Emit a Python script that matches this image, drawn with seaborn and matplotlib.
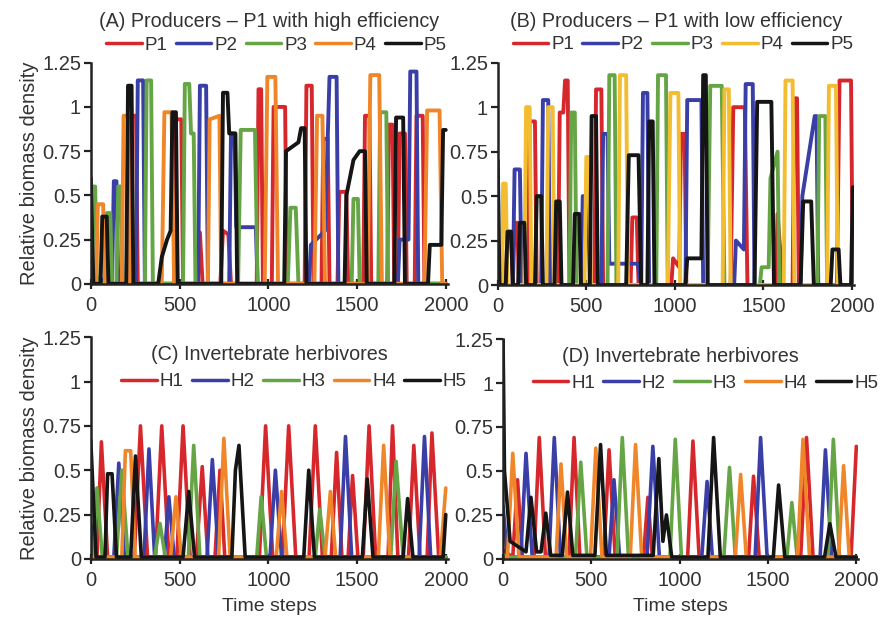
import pandas as pd
import seaborn as sns
import matplotlib.pyplot as plt
from matplotlib.ticker import FuncFormatter

# ---- data: (time step, relative biomass density) ----
# (A) producers, P1 high efficiency
a_p1 = [(0, 0.0), (215, 0.0), (230, 0.95), (255, 0.95), (265, 0.0), (470, 0.0), (480, 0.93), (510, 0.93), (520, 0.0),
        (600, 0.0), (615, 0.29), (630, 0.0), (730, 0.0), (745, 0.3), (775, 0.28), (790, 0.0), (935, 0.0), (945, 1.1),
        (960, 1.1), (970, 0.0), (1020, 0.0), (1030, 1.0), (1095, 1.0), (1105, 0.0), (1205, 0.0), (1215, 1.12),
        (1245, 1.12), (1255, 0.0), (1300, 0.0), (1310, 0.82), (1335, 0.82), (1345, 0.0), (1390, 0.0), (1400, 0.52),
        (1440, 0.52), (1450, 0.0), (1535, 0.0), (1545, 0.95), (1570, 0.95), (1580, 0.0), (1670, 0.0), (1680, 0.9),
        (1700, 0.9), (1710, 0.0), (1730, 0.0), (1740, 0.85), (1770, 0.85), (1780, 0.0), (1825, 0.0), (1835, 0.95),
        (1870, 0.95), (1880, 0.0), (2000, 0.0)]
a_p2 = [(0, 0.05), (120, 0.0), (130, 0.58), (145, 0.58), (155, 0.0), (255, 0.0), (265, 1.15), (295, 1.15), (305, 0.0),
        (605, 0.0), (615, 1.12), (650, 1.12), (660, 0.0), (780, 0.0), (790, 0.85), (810, 0.85), (820, 0.32),
        (930, 0.32), (940, 0.0), (1230, 0.0), (1240, 0.22), (1320, 0.3), (1345, 1.17), (1385, 1.17), (1395, 0.0),
        (1730, 0.0), (1740, 0.25), (1790, 0.25), (1800, 1.2), (1835, 1.2), (1845, 0.0), (2000, 0.0)]
a_p3 = [(0, 0.0), (10, 0.55), (25, 0.55), (35, 0.0), (80, 0.0), (90, 0.4), (110, 0.4), (120, 0.0), (145, 0.0),
        (155, 0.55), (170, 0.55), (180, 0.0), (305, 0.0), (315, 1.15), (340, 1.15), (350, 0.0), (520, 0.0),
        (530, 1.13), (555, 1.13), (565, 0.85), (580, 0.85), (590, 0.0), (830, 0.0), (845, 0.87), (925, 0.87),
        (940, 0.0), (1110, 0.0), (1125, 0.43), (1155, 0.43), (1170, 0.0), (1470, 0.0), (1480, 0.48), (1505, 0.48),
        (1515, 0.0), (1620, 0.0), (1630, 0.97), (1665, 0.97), (1675, 0.0), (2000, 0.0)]
a_p4 = [(0, 0.0), (30, 0.0), (40, 0.45), (70, 0.45), (80, 0.0), (175, 0.0), (185, 0.95), (210, 0.95), (220, 0.0),
        (400, 0.0), (415, 0.97), (455, 0.97), (470, 0.0), (660, 0.0), (670, 0.93), (725, 0.95), (735, 0.0),
        (980, 0.0), (995, 1.17), (1040, 1.17), (1055, 0.0), (1260, 0.0), (1275, 0.95), (1305, 0.95), (1320, 0.0),
        (1560, 0.0), (1575, 1.18), (1625, 1.18), (1640, 0.0), (1880, 0.0), (1895, 0.98), (1965, 0.98), (1980, 0.0),
        (2000, 0.0)]
a_p5 = [(0, 0.6), (15, 0.0), (55, 0.0), (65, 0.38), (90, 0.38), (100, 0.0), (200, 0.0), (210, 1.12), (230, 1.12),
        (240, 0.0), (380, 0.0), (400, 0.15), (430, 0.25), (450, 0.3), (460, 0.97), (480, 0.97), (490, 0.0),
        (735, 0.0), (745, 1.08), (770, 1.08), (780, 0.85), (815, 0.85), (825, 0.0), (1090, 0.0), (1100, 0.75),
        (1170, 0.8), (1185, 0.88), (1205, 0.88), (1215, 0.0), (1430, 0.0), (1440, 0.5), (1480, 0.7), (1515, 0.75),
        (1545, 0.75), (1555, 0.0), (1710, 0.0), (1720, 0.94), (1760, 0.94), (1770, 0.0), (1900, 0.0), (1910, 0.22),
        (1975, 0.22), (1985, 0.87), (2000, 0.87)]

# (B) producers, P1 low efficiency
b_p1 = [(0, 0.0), (45, 0.0), (55, 0.3), (75, 0.3), (85, 0.0), (95, 0.35), (110, 0.35), (120, 0.0), (170, 0.0),
        (180, 0.92), (210, 0.92), (220, 0.0), (340, 0.0), (350, 0.97), (370, 0.97), (380, 1.15), (395, 1.15),
        (405, 0.0), (545, 0.0), (555, 1.1), (585, 1.1), (595, 0.0), (750, 0.0), (760, 0.38), (785, 0.38), (795, 0.0),
        (980, 0.0), (990, 0.15), (1025, 0.1), (1035, 0.85), (1055, 0.85), (1065, 0.0), (1315, 0.0), (1330, 1.0),
        (1395, 1.0), (1410, 0.0), (1570, 0.0), (1580, 0.4), (1610, 0.0), (1665, 0.0), (1675, 1.05), (1690, 1.05),
        (1700, 0.0), (1915, 0.0), (1930, 1.15), (1995, 1.15), (2005, 0.0)]
b_p2 = [(0, 0.0), (85, 0.0), (95, 0.65), (125, 0.65), (135, 0.0), (245, 0.0), (255, 1.04), (285, 1.04), (295, 0.0),
        (470, 0.0), (480, 0.5), (510, 0.5), (520, 0.0), (585, 0.0), (595, 0.85), (620, 0.85), (630, 0.12),
        (790, 0.12), (810, 0.0), (820, 1.08), (845, 1.08), (855, 0.0), (1060, 0.0), (1070, 1.04), (1150, 1.04),
        (1160, 0.0), (1335, 0.0), (1345, 0.25), (1390, 0.2), (1400, 1.13), (1440, 1.13), (1450, 0.0), (1710, 0.0),
        (1720, 0.5), (1790, 0.95), (1800, 0.95), (1810, 0.0), (2000, 0.0)]
b_p3 = [(0, 0.0), (405, 0.0), (415, 0.97), (435, 0.97), (445, 0.0), (620, 0.0), (630, 1.18), (660, 1.18),
        (670, 0.0), (895, 0.0), (905, 1.18), (950, 1.18), (960, 0.0), (1185, 0.0), (1200, 1.12), (1265, 1.12),
        (1280, 0.0), (1480, 0.0), (1490, 0.1), (1530, 0.1), (1540, 0.6), (1580, 0.75), (1590, 0.0), (1805, 0.0),
        (1815, 0.95), (1850, 0.95), (1860, 0.0), (2000, 0.0)]
b_p4 = [(0, 0.0), (25, 0.0), (30, 0.57), (45, 0.57), (55, 0.0), (150, 0.0), (160, 1.0), (180, 1.0), (190, 0.0),
        (275, 0.0), (285, 1.0), (310, 1.0), (320, 0.0), (490, 0.0), (500, 0.72), (515, 0.72), (525, 0.0),
        (680, 0.0), (690, 1.18), (725, 1.18), (735, 0.0), (960, 0.0), (975, 1.08), (1020, 1.08), (1030, 0.0),
        (1270, 0.0), (1280, 1.1), (1305, 1.1), (1315, 0.0), (1615, 0.0), (1625, 1.15), (1665, 1.15), (1675, 0.0),
        (1860, 0.0), (1870, 1.12), (1910, 1.12), (1920, 0.0), (2000, 0.0)]
b_p5 = [(0, 0.7), (10, 0.0), (45, 0.0), (55, 0.3), (75, 0.3), (85, 0.0), (115, 0.0), (125, 0.35), (150, 0.35),
        (160, 0.0), (210, 0.0), (220, 0.5), (245, 0.5), (255, 0.0), (320, 0.0), (330, 0.47), (350, 0.47),
        (360, 0.0), (425, 0.0), (435, 0.4), (460, 0.4), (470, 0.0), (520, 0.0), (530, 0.95), (555, 0.95),
        (565, 0.0), (725, 0.0), (740, 0.73), (795, 0.73), (810, 0.0), (845, 0.0), (855, 0.92), (875, 0.92),
        (885, 0.0), (1060, 0.0), (1070, 0.15), (1150, 0.15), (1160, 1.18), (1175, 1.18), (1185, 0.0), (1450, 0.0),
        (1465, 1.03), (1545, 1.03), (1560, 0.0), (1710, 0.0), (1725, 0.47), (1770, 0.47), (1785, 0.0), (1880, 0.0),
        (1890, 0.2), (1925, 0.2), (1935, 0.0), (1995, 0.0), (2005, 0.55)]

# (C) invertebrate herbivores
c_h1 = [(0, 0.05), (35, 0.01), (60, 0.66), (95, 0.01), (245, 0.01), (280, 0.75), (320, 0.01), (365, 0.01),
        (400, 0.75), (440, 0.01), (485, 0.01), (520, 0.75), (560, 0.01), (595, 0.01), (628, 0.52), (660, 0.01),
        (700, 0.01), (728, 0.5), (755, 0.01), (950, 0.01), (985, 0.75), (1025, 0.01), (1080, 0.01), (1115, 0.75),
        (1155, 0.01), (1230, 0.01), (1265, 0.75), (1305, 0.01), (1355, 0.01), (1385, 0.6), (1415, 0.01),
        (1450, 0.01), (1475, 0.47), (1505, 0.01), (1535, 0.01), (1568, 0.75), (1605, 0.01), (1675, 0.01),
        (1700, 0.75), (1730, 0.01), (1790, 0.01), (1820, 0.64), (1855, 0.01), (1895, 0.01), (1922, 0.71),
        (1960, 0.01), (2000, 0.01)]
c_h2 = [(0, 0.2), (30, 0.01), (130, 0.01), (158, 0.54), (190, 0.01), (300, 0.01), (328, 0.62), (360, 0.01),
        (415, 0.01), (440, 0.35), (470, 0.01), (655, 0.01), (685, 0.56), (720, 0.01), (1010, 0.01), (1040, 0.5),
        (1075, 0.01), (1405, 0.01), (1435, 0.69), (1470, 0.01), (1850, 0.01), (1880, 0.69), (1915, 0.01),
        (2000, 0.01)]
c_h3 = [(0, 0.1), (15, 0.01), (35, 0.4), (65, 0.01), (145, 0.01), (175, 0.5), (210, 0.01), (360, 0.01), (390, 0.2),
        (420, 0.01), (550, 0.01), (580, 0.64), (615, 0.01), (935, 0.01), (960, 0.35), (990, 0.01), (1265, 0.01),
        (1290, 0.28), (1320, 0.01), (1690, 0.01), (1720, 0.55), (1760, 0.01), (2000, 0.01)]
c_h4 = [(0, 0.01), (175, 0.01), (195, 0.61), (225, 0.61), (250, 0.01), (450, 0.01), (480, 0.35), (510, 0.01),
        (720, 0.01), (750, 0.68), (785, 0.01), (1045, 0.01), (1075, 0.38), (1105, 0.01), (1320, 0.01), (1350, 0.38),
        (1380, 0.01), (1620, 0.01), (1650, 0.64), (1685, 0.01), (1970, 0.01), (2000, 0.4)]
c_h5 = [(0, 0.67), (30, 0.01), (80, 0.01), (95, 0.48), (120, 0.48), (145, 0.01), (225, 0.01), (252, 0.58),
        (285, 0.01), (520, 0.01), (552, 0.38), (585, 0.01), (795, 0.01), (815, 0.5), (835, 0.64), (870, 0.01),
        (1200, 0.01), (1228, 0.5), (1260, 0.01), (1530, 0.01), (1558, 0.45), (1590, 0.01), (1760, 0.01),
        (1785, 0.34), (1815, 0.01), (1985, 0.01), (2000, 0.25)]

# (D) invertebrate herbivores
d_h1 = [(0, 0.05), (55, 0.01), (82, 0.45), (110, 0.01), (175, 0.01), (205, 0.69), (240, 0.01), (373, 0.01),
        (402, 0.69), (435, 0.01), (570, 0.01), (600, 0.62), (635, 0.01), (795, 0.01), (820, 0.35), (845, 0.01),
        (1045, 0.01), (1075, 0.67), (1110, 0.01), (1390, 0.01), (1418, 0.47), (1450, 0.01), (1685, 0.01),
        (1718, 0.69), (1755, 0.01), (1970, 0.01), (2000, 0.64)]
d_h2 = [(0, 0.3), (25, 0.01), (100, 0.01), (130, 0.6), (165, 0.01), (260, 0.01), (290, 0.69), (325, 0.01),
        (600, 0.01), (628, 0.45), (660, 0.01), (815, 0.01), (848, 0.64), (885, 0.01), (1125, 0.01), (1155, 0.44),
        (1185, 0.01), (1427, 0.01), (1458, 0.69), (1495, 0.01), (1795, 0.01), (1825, 0.62), (1860, 0.01),
        (2000, 0.01)]
d_h3 = [(0, 0.01), (410, 0.01), (440, 0.55), (475, 0.01), (645, 0.01), (675, 0.69), (710, 0.01), (945, 0.01),
        (975, 0.68), (1010, 0.01), (1250, 0.01), (1282, 0.52), (1315, 0.01), (1607, 0.01), (1635, 0.32),
        (1665, 0.01), (1840, 0.01), (1870, 0.68), (1905, 0.01), (2000, 0.01)]
d_h4 = [(0, 0.01), (25, 0.01), (55, 0.6), (90, 0.01), (300, 0.01), (328, 0.54), (360, 0.01), (495, 0.01),
        (525, 0.63), (560, 0.01), (720, 0.01), (750, 0.65), (785, 0.01), (1315, 0.01), (1345, 0.48), (1377, 0.01),
        (1667, 0.01), (1698, 0.68), (1735, 0.01), (1900, 0.01), (1928, 0.53), (1960, 0.01), (2000, 0.01)]
d_h5 = [(0, 1.25), (8, 0.5), (40, 0.1), (130, 0.04), (158, 0.35), (190, 0.04), (215, 0.04), (242, 0.26),
        (270, 0.02), (335, 0.02), (365, 0.38), (395, 0.02), (520, 0.02), (552, 0.65), (585, 0.02), (850, 0.02),
        (882, 0.57), (905, 0.1), (925, 0.25), (955, 0.01), (1160, 0.01), (1192, 0.69), (1230, 0.01), (1530, 0.01),
        (1560, 0.42), (1595, 0.01), (1820, 0.01), (1850, 0.2), (1885, 0.01), (2000, 0.01)]

producer_names = ["P1", "P2", "P3", "P4", "P5"]
herbivore_names = ["H1", "H2", "H3", "H4", "H5"]
x_ticks = [0, 500, 1000, 1500, 2000]
y_ticks = [0, 0.25, 0.5, 0.75, 1, 1.25]

titles = ["(A) Producers \u2013 P1 with high efficiency",
          "(B) Producers \u2013 P1 with low efficiency",
          "(C) Invertebrate herbivores",
          "(D) Invertebrate herbivores"]

red, blue, green, orange, yellow, black = "#d6282c", "#3a3fa8", "#65a545", "#f0862a", "#f3bd32", "#151515"


def to_frame(names, series):
    rows = []
    for name, pts in zip(names, series):
        for t, y in pts:
            rows.append({"time": t, "density": y, "species": name})
    return pd.DataFrame(rows)


panels = [
    (to_frame(producer_names, [a_p1, a_p2, a_p3, a_p4, a_p5]), producer_names, [red, blue, green, orange, black]),
    (to_frame(producer_names, [b_p1, b_p2, b_p3, b_p4, b_p5]), producer_names, [red, blue, green, yellow, black]),
    (to_frame(herbivore_names, [c_h1, c_h2, c_h3, c_h4, c_h5]), herbivore_names, [red, blue, green, orange, black]),
    (to_frame(herbivore_names, [d_h1, d_h2, d_h3, d_h4, d_h5]), herbivore_names, [red, blue, green, orange, black]),
]

sns.set_theme(style="ticks")
plt.rcParams["font.family"] = ["Liberation Sans", "DejaVu Sans"]
plt.rcParams["text.color"] = "#333333"

fig = plt.figure(figsize=(8.81, 6.21), dpi=100)
boxes = [[0.103, 0.543, 0.405, 0.356],
         [0.565, 0.541, 0.404, 0.358],
         [0.103, 0.100, 0.405, 0.357],
         [0.571, 0.100, 0.403, 0.354]]

for i, (df, names, colors) in enumerate(panels):
    ax = fig.add_axes(boxes[i])
    sns.lineplot(data=df, x="time", y="density", hue="species", hue_order=names,
                 palette=dict(zip(names, colors)), estimator=None, sort=False,
                 linewidth=2.8 if i < 2 else 2.6, ax=ax)
    for line in ax.lines:
        line.set_solid_joinstyle("round")
    ax.set_xlim(0, 2010)
    ax.set_ylim(0, 1.25)
    ax.set_xticks(x_ticks)
    ax.set_yticks(y_ticks)
    ax.yaxis.set_major_formatter(FuncFormatter(lambda v, p: f"{v:g}"))
    ax.set_xlabel("Time steps" if i >= 2 else "", fontsize=14, color="#333333", labelpad=6)
    ax.set_ylabel("Relative biomass density" if i % 2 == 0 else "", fontsize=14.5, color="#333333", labelpad=2)
    for s in ["top", "right"]:
        ax.spines[s].set_visible(False)
    for s in ["left", "bottom"]:
        ax.spines[s].set_linewidth(1.8)
        ax.spines[s].set_color("#222222")
    ax.tick_params(axis="y", direction="out", length=5, width=1.6, labelsize=14.5, colors="#222222",
                   labelcolor="#333333", pad=2)
    ax.tick_params(axis="x", direction="inout", length=7, width=1.6, labelsize=14.5, colors="#222222",
                   labelcolor="#333333", pad=5)

    if i < 2:
        ax.set_title(titles[i], fontsize=14.2, pad=0, y=1.16, color="#333333")
        sns.move_legend(ax, "center", bbox_to_anchor=(0.52, 1.08), ncol=5, frameon=False, title=None,
                        fontsize=13.5, handlelength=1.9, handletextpad=0.15, columnspacing=0.45,
                        borderaxespad=0, borderpad=0)
    else:
        ax.text(0.5, 0.92, titles[i], transform=ax.transAxes, ha="center", va="center",
                fontsize=14.2, color="#333333")
        sns.move_legend(ax, "center", bbox_to_anchor=(0.57, 0.8), ncol=5, frameon=False, title=None,
                        fontsize=13.5, handlelength=1.9, handletextpad=0.15, columnspacing=0.45,
                        borderaxespad=0, borderpad=0)
    for line in ax.get_legend().get_lines():
        line.set_linewidth(2.5)

fig.savefig("out.png", dpi=100)
